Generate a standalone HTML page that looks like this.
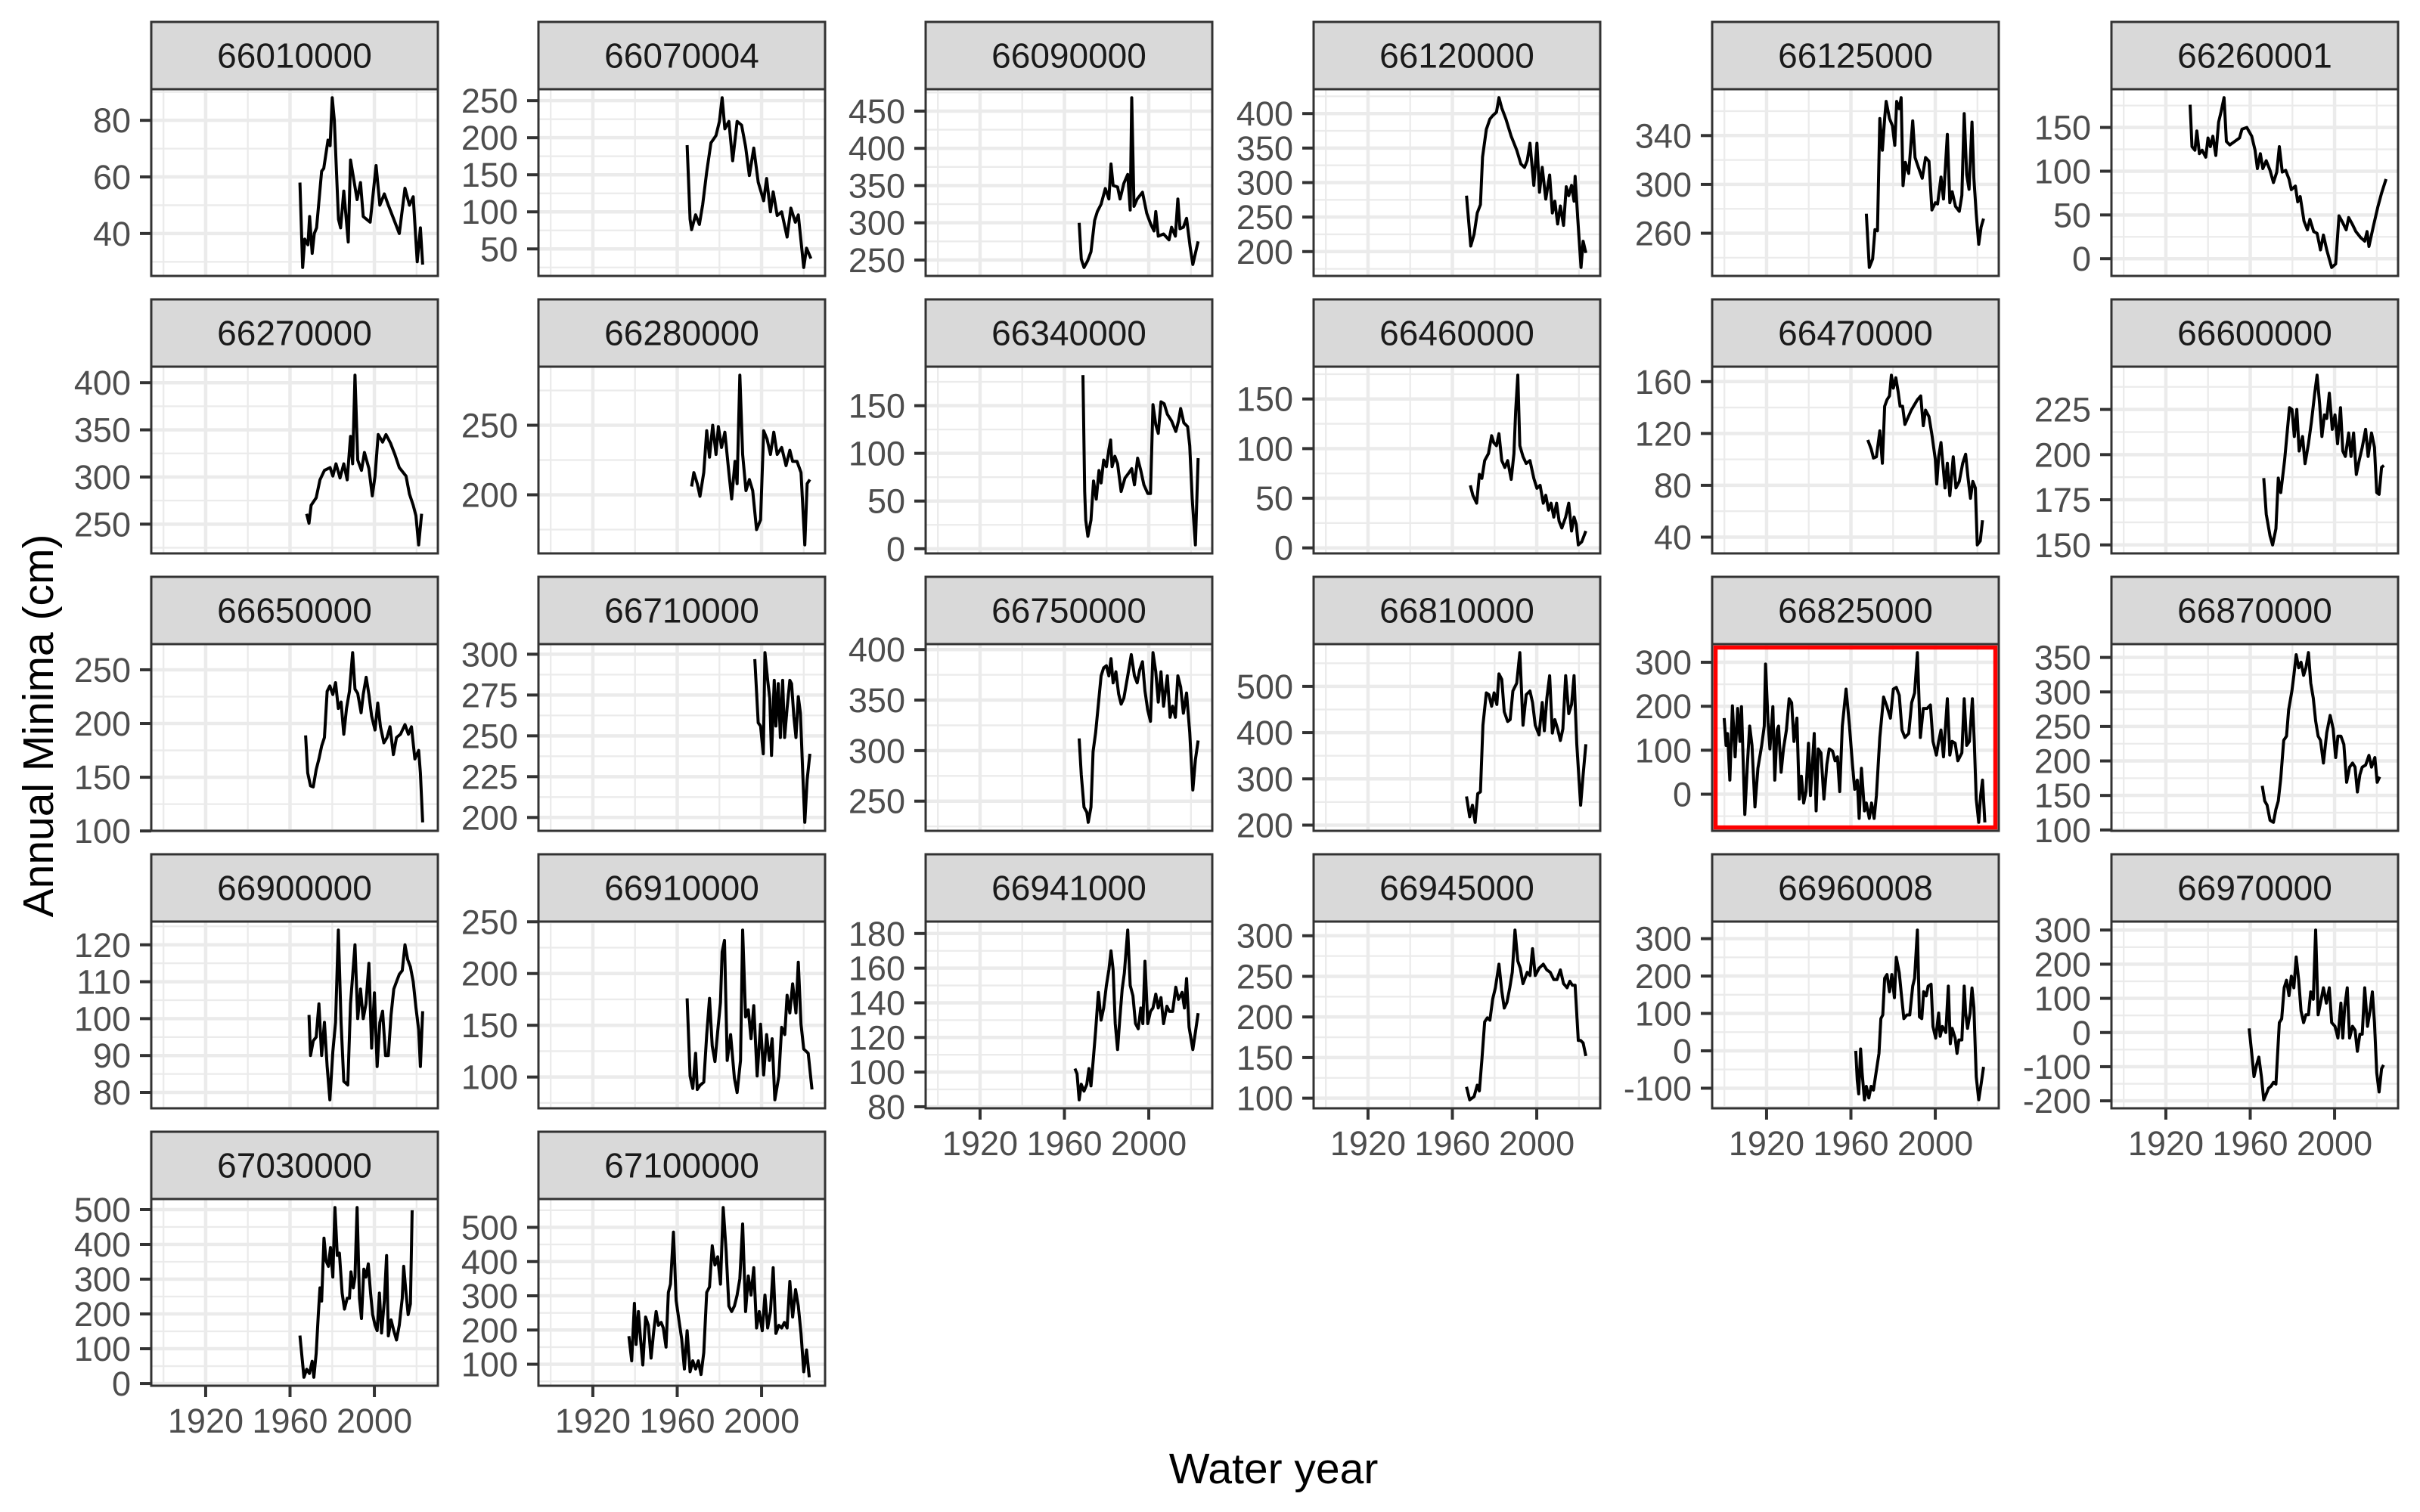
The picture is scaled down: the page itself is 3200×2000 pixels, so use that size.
<!DOCTYPE html>
<html><head><meta charset="utf-8"><title>Annual minima by station</title>
<style>
html,body{margin:0;padding:0;background:#fff;}
svg{display:block;}
</style></head>
<body>
<svg id="chart" width="3200" height="2000" viewBox="0 0 3200 2000" xmlns="http://www.w3.org/2000/svg" font-family="'Liberation Sans', Arial, sans-serif">
<rect x="0" y="0" width="3200" height="2000" fill="#fff"/>
<text x="0" y="0" transform="translate(70,960) rotate(-90)" text-anchor="middle" font-size="57" fill="#000">Annual Minima (cm)</text>
<text x="1684" y="1962" text-anchor="middle" font-size="57" fill="#000">Water year</text>
</svg>
<script>
const stations = ["66010000","66070004","66090000","66120000","66125000","66260001","66270000","66280000","66340000","66460000","66470000","66600000","66650000","66710000","66750000","66810000","66825000","66870000","66900000","66910000","66941000","66945000","66960008","66970000","67030000","67100000"];
const xTickLabels = [1920,1960,2000];
const xMinorTicks = [1900,1940,1980,2020];
const xDomain = [1894.2, 2030.1];

const years_66010000 = [1964.7,1966,1967,1968.5,1969.3,1970.5,1971.5,1972.6,1975,1976,1978,1979,1980,1981,1982,1983,1984,1985.5,1987.6,1988.7,1991.8,1993.4,1994.7,1998,2000.8,2002.6,2004.7,2006.6,2011.8,2014.5,2016.6,2018.4,2020.3,2021.8,2022.9];
const values_66010000 = [58,28,38,36,46,33,40,42,62,63,73,71,88,80,62,45,42,55,37,66,52,58,46,44,64,50,54,50,40,56,50,53,30,42,29];
const years_66070004 = [1964.7,1966.1,1966.8,1968.7,1970.5,1972.1,1974,1976,1978.4,1980,1981.3,1982.6,1984.5,1986.3,1988.4,1990.5,1992.4,1994.2,1996.3,1998.4,2001,2002.4,2004.2,2005.5,2007.4,2009.5,2012.1,2013.9,2016,2017.4,2020,2021.3,2023.4];
const values_66070004 = [190,90,76,96,83,110,154,193,203,222,254,212,222,169,222,217,188,149,186,140,115,145,100,127,95,100,66,105,86,96,25,51,37];
const years_66090000 = [1967,1968,1969.3,1971,1972.6,1974.3,1975.6,1977.4,1979.4,1981.1,1982.1,1983.1,1985.2,1986.4,1988.2,1990,1991.2,1991.9,1993,1994.5,1997,1999,2000.8,2002.5,2003.3,2004.5,2007,2009.6,2010.8,2012.6,2013.8,2014.8,2016.4,2017.9,2019.6,2020.9,2023.4];
const values_66090000 = [300,251,240,249,261,303,315,325,346,332,379,350,348,332,353,365,317,468,322,332,341,313,299,289,315,282,285,277,294,282,332,292,294,306,268,244,275];
const years_66120000 = [1966.7,1968.7,1970.3,1971.8,1973.3,1974.3,1976.1,1977.8,1979.1,1980.9,1982.1,1983.4,1985.4,1987.9,1990.5,1992.5,1994.2,1995.5,1996.8,1998.6,2000.1,2001.3,2002.6,2004.3,2006.1,2007.4,2008.6,2009.9,2011.2,2012.7,2014,2015.2,2016.5,2017.7,2018.2,2019.5,2021,2022,2023.3];
const values_66120000 = [281,208,225,256,268,337,377,392,397,402,423,408,392,367,347,327,322,332,357,296,357,286,322,276,311,256,273,240,266,238,294,281,296,273,309,246,177,215,198];
const years_66125000 = [1967.3,1968.7,1970.3,1971.4,1972.6,1973.7,1974.9,1976,1976.7,1978.3,1979.7,1980.8,1981.7,1982.9,1983.8,1984.7,1985.8,1987.4,1989.3,1990.4,1992,1993.8,1995.4,1997,1998.4,2000,2001.1,2002.7,2003.9,2005.7,2006.9,2008,2009.6,2011.4,2012.6,2013.7,2014.9,2016,2017.4,2018.3,2019.4,2020.6,2021.7,2022.9];
const values_66125000 = [276,232,239,263,262,354,328,354,368,354,348,332,368,362,371,299,318,309,352,322,314,305,322,319,279,285,284,306,288,341,285,294,282,278,291,358,308,296,351,305,276,251,265,272];
const years_66260001 = [1931.5,1932.4,1933.8,1934.7,1935.9,1937.2,1938.9,1940,1941.1,1942.3,1943.7,1945,1946.2,1947.6,1948.7,1950.3,1952.6,1954.9,1956.1,1958.4,1960.7,1962.3,1963.4,1964.8,1966,1967.6,1969.4,1971,1972.6,1973.8,1975.2,1976.8,1978.4,1979.5,1981.4,1982.5,1983.7,1985.5,1987.1,1988.3,1990.1,1991.7,1993.3,1994.7,1996.3,1998.6,2000.5,2002.1,2003.9,2005.5,2006.7,2008.5,2010.1,2012.4,2014.3,2015.4,2016.3,2018.2,2020.5,2022.3,2024.4];
const values_66260001 = [176,128,124,146,120,124,116,138,128,140,118,156,168,184,134,130,134,138,148,150,140,124,103,120,103,112,101,87,99,128,99,101,91,79,83,65,71,43,33,45,31,29,10,27,10,-10,-6,49,41,33,47,39,31,24,20,31,14,35,59,75,91];
const years_66270000 = [1967.9,1969,1970,1972.4,1974.2,1976.3,1979,1980.3,1981.8,1983.7,1985.5,1987.1,1988.7,1989.7,1990.8,1992.1,1993.9,1995.3,1997.4,1999,2000.3,2001.8,2003.9,2005.5,2007.6,2009.7,2011.8,2015,2016.6,2018.4,2019.7,2021,2022.4];
const values_66270000 = [261,251,270,278,297,307,310,301,314,299,314,297,343,314,408,318,307,326,309,280,301,345,337,345,336,324,310,301,282,270,259,228,261];
const years_66280000 = [1966.8,1967.9,1969.5,1970.8,1972.6,1974,1975.3,1976.8,1978.4,1979.5,1981,1982.6,1984.5,1985.8,1987.4,1988.4,1989.7,1991,1992.6,1994.2,1995.8,1997.6,1999.5,2001,2002.6,2004.2,2005.8,2007.4,2009.5,2011.6,2013.4,2014.7,2016.8,2018.7,2020.5,2021.6,2022.9];
const values_66280000 = [206,216,208,199,216,246,227,250,229,249,234,245,216,197,224,208,286,229,203,211,203,175,182,246,240,229,245,229,234,221,232,224,224,216,164,208,211];
const years_66340000 = [1968.8,1969.6,1970.1,1971.1,1972.6,1973.8,1975.1,1976.4,1977.4,1978.6,1979.9,1981.1,1981.9,1982.6,1983.9,1985.2,1986.9,1988.7,1990.7,1991.9,1993.2,1994.7,1996.2,1997.7,1999.5,2000.8,2002,2003.3,2004.5,2005.8,2007.3,2008.8,2010.8,2012.8,2014.1,2015.1,2016.6,2018.4,2019.4,2020.6,2022.1,2023.4];
const values_66340000 = [182,60,30,13,30,71,52,82,69,93,86,104,114,86,97,89,60,74,80,84,67,95,82,67,58,58,151,130,121,154,152,141,134,123,134,147,132,128,108,52,4,95];
const years_66460000 = [1968.5,1969.7,1971.5,1972.8,1974,1975.3,1977.1,1978.6,1979.6,1980.9,1982.1,1983.4,1984.9,1986.2,1987.9,1989.2,1990,1991,1992,1993.5,1995,1996.8,1998.6,2000.1,2001.6,2003.1,2004.3,2005.6,2006.8,2008.1,2009.4,2010.6,2011.9,2013.7,2015.2,2016.5,2017.7,2018.7,2019.7,2021.3,2023.3];
const values_66460000 = [63,53,45,74,70,88,95,113,106,103,115,88,81,88,69,95,138,174,103,92,85,88,70,60,63,45,53,38,45,31,45,27,20,31,45,17,31,24,3,6,17];
const years_66470000 = [1968,1969.6,1970.7,1972.1,1973.7,1974.9,1976,1977.1,1978.3,1979.2,1980.1,1981.3,1982.4,1983.3,1984.5,1985.6,1988.6,1991.5,1993.1,1994.3,1995.4,1997,1998.4,2000,2000.7,2001.6,2002.7,2004.6,2005.7,2006.9,2008.5,2009.8,2011.4,2013,2014.4,2015.5,2016.7,2017.8,2019,2019.9,2021.3,2022.4];
const values_66470000 = [115,108,101,102,122,97,141,146,149,165,155,163,152,141,141,127,138,146,149,126,138,133,119,100,81,102,113,78,97,72,102,78,83,97,104,86,70,83,78,34,37,53];
const years_66600000 = [1966.4,1967.6,1969.4,1970.6,1972.2,1973.3,1974.5,1976.3,1977.5,1978.6,1979.8,1980.9,1982.1,1983.2,1984.8,1986,1987.6,1989,1990.6,1991.7,1992.9,1994,1995.2,1996.3,1997.5,1998.9,2000.2,2001.4,2002.8,2003.9,2005.1,2006.7,2007.8,2009,2010.3,2011.7,2013.1,2014.7,2015.9,2017.5,2018.9,2020,2021.1,2022.3,2023.4];
const values_66600000 = [187,167,155,150,159,187,179,197,212,226,225,210,225,202,210,195,206,218,234,244,228,210,222,220,234,214,222,206,226,202,199,212,199,212,189,197,204,214,199,212,204,179,178,193,194];
const years_66650000 = [1967.4,1968.4,1969.7,1971,1972.4,1973.7,1975,1976.3,1977.6,1978.9,1980.3,1981.6,1982.9,1984.2,1985.5,1986.8,1988.2,1989.7,1990.8,1992.1,1993.7,1994.7,1996.1,1997.4,1998.7,2000.3,2001.6,2002.9,2004.5,2006,2007.4,2009,2010.5,2012.4,2014.5,2016.1,2017.6,2019.2,2021,2021.8,2022.9];
const values_66650000 = [189,154,142,141,157,167,179,187,230,235,227,238,214,220,190,214,230,266,232,228,210,227,243,227,207,194,219,197,182,187,197,171,187,190,199,190,197,167,175,154,108];
const years_66710000 = [1996.8,1998.4,1999.5,2000.8,2001.6,2002.9,2003.9,2004.7,2006,2006.8,2007.9,2008.9,2010,2010.9,2012.1,2013.4,2014.2,2015.3,2016.3,2017.4,2018.4,2019.5,2020.5,2021.6,2022.9];
const values_66710000 = [297,258,256,239,301,284,273,238,284,256,282,249,284,249,267,284,282,262,249,274,264,228,197,223,239];
const years_66750000 = [1967,1968,1969.3,1970.6,1971.3,1972.6,1973.6,1974.8,1976.1,1977.4,1978.6,1979.9,1981.1,1982.1,1983.1,1984.4,1985.7,1986.9,1988.2,1990,1991.7,1993.2,1994.5,1995.7,1997,1998.2,1999.5,2000.8,2002,2003.3,2004.5,2005.8,2007,2008.8,2010.1,2011.3,2012.6,2013.8,2015.1,2016.4,2017.9,2019.4,2020.9,2022.1,2023.4];
const values_66750000 = [312,276,244,239,229,244,299,318,346,374,382,384,374,391,367,378,356,346,352,374,395,374,367,380,388,359,340,329,397,378,348,378,344,374,333,344,333,374,363,337,357,318,261,291,310];
const years_66810000 = [1966.7,1968.2,1969.5,1970.8,1972,1973.3,1974.5,1976.1,1977.3,1978.6,1979.8,1981.1,1982.1,1983.4,1984.6,1986.2,1987.4,1988.7,1990.5,1992,1993.5,1995,1996.8,1998,1999.3,2001.1,2002.6,2003.6,2004.8,2006.1,2007.4,2008.6,2009.9,2011.2,2012.4,2013.7,2015.2,2016.5,2017.7,2019,2020.8,2022,2023.3];
const values_66810000 = [262,218,243,206,268,272,416,486,482,457,486,461,527,515,445,424,428,490,507,573,416,482,490,465,416,395,465,404,474,523,399,428,408,383,408,523,441,461,523,375,243,309,375];
const years_66825000 = [1899.9,1900.8,1901.5,1902.6,1903.8,1905.1,1906.3,1907.4,1908.1,1909.7,1910.9,1912,1913.1,1914.5,1915.9,1917.7,1918.9,1919.5,1920.7,1921.6,1923,1923.9,1925,1925.7,1926.9,1928,1929.4,1930.7,1931.9,1933,1934.4,1935.5,1936.5,1937.6,1938.7,1939.9,1940.8,1942.6,1943.5,1944.5,1945.8,1947.2,1948.6,1949.7,1951.3,1952.5,1953.6,1954.7,1955.9,1957.7,1959.3,1960.7,1961.8,1963,1963.9,1965,1966.4,1967.3,1968.7,1969.8,1971,1972.1,1973.7,1975.5,1977.1,1978.7,1980.1,1981.5,1982.9,1984.2,1985.6,1987.4,1988.8,1990.2,1991.5,1992.9,1994.3,1996.1,1997.7,1998.9,2000.5,2001.6,2002.7,2003.9,2005.7,2006.9,2008,2009.4,2010.7,2012.6,2013.7,2014.9,2016.2,2017.6,2018.5,2019.4,2020.6,2021.5,2022.4,2023.5];
const values_66825000 = [173,111,138,32,201,85,195,120,199,-46,68,155,111,-29,59,111,155,296,164,103,199,32,146,155,50,103,146,217,208,120,173,-11,41,-20,6,116,-3,138,-38,103,94,-11,68,103,98,76,85,6,155,239,155,68,11,32,-55,59,-38,-20,-55,-20,-55,-3,129,221,199,173,239,243,225,146,129,138,208,230,322,129,195,195,203,120,89,120,146,85,217,89,120,116,76,94,217,111,120,217,120,-11,-64,-3,32,-64];
const years_66870000 = [1965.7,1966.9,1968,1969.4,1971,1972.2,1973.3,1974.5,1975.9,1977.2,1978.2,1979.8,1980.7,1981.8,1983,1984.1,1985.3,1986.4,1987.6,1988.7,1989.9,1991,1992.2,1993.3,1994.7,1996.3,1997.9,1999.3,2000.5,2001.6,2003,2004.4,2005.7,2007.1,2008.5,2009.7,2010.8,2012,2013.1,2014.7,2016.3,2017.5,2019.1,2020.2,2021.4];
const values_66870000 = [164,142,136,114,111,130,142,175,230,236,274,302,324,354,335,343,324,335,357,313,291,258,236,230,197,241,266,247,205,236,236,224,169,191,197,191,155,180,191,194,208,191,205,169,177];
const years_66900000 = [1969,1969.7,1971,1972.4,1973.7,1975,1976.3,1977.6,1978.9,1980.3,1981.6,1982.9,1984.2,1985.5,1987.4,1988.7,1990.8,1992.1,1993.4,1994.7,1996,1997.4,1998.7,2000,2001.3,2002.6,2003.9,2005.3,2006.6,2007.9,2009.2,2010.5,2011.8,2013.2,2014.5,2015.8,2017.1,2018.4,2019.7,2021,2021.8,2022.9];
const values_66900000 = [101,90,94,95,104,90,99,87,78,91,99,124,99,83,82,104,120,100,108,100,104,115,92,107,87,99,102,90,90,101,108,110,112,113,120,116,114,110,103,97,87,102];
const years_66910000 = [1964.7,1966.1,1967.4,1968.7,1969.5,1970.8,1972.6,1974,1975.3,1976.6,1977.9,1979.2,1980.5,1981.3,1982.4,1983.7,1985.3,1987.1,1988.4,1990,1991,1992.4,1993.7,1995,1996.3,1997.9,1999.5,2001,2002.4,2003.7,2005,2006.3,2008.2,2009.5,2011,2012.1,2013.4,2014.7,2016.3,2017.4,2018.7,2020,2022.1,2023.9];
const values_66910000 = [176,101,89,123,88,92,95,141,176,130,115,144,172,221,232,116,141,99,85,116,242,158,165,137,169,101,151,102,141,116,137,78,101,148,141,179,162,190,162,211,151,127,123,88];
const years_66941000 = [1965,1966,1967,1968,1969.3,1970.6,1971.6,1972.6,1973.6,1974.8,1976.1,1977.4,1978.6,1979.9,1981.1,1982.1,1983.1,1984.1,1985.2,1986.2,1987.4,1988.4,1990,1991.2,1992.5,1993.7,1995,1996.2,1997.2,1998.2,1999.5,2000.8,2002,2003.3,2004.5,2005.8,2007,2008.6,2009.8,2011.3,2012.8,2014.1,2015.8,2016.9,2017.9,2019.1,2020.9,2022.1,2023.4];
const values_66941000 = [102,99,84,93,89,93,102,92,106,124,146,130,137,150,159,170,159,128,113,130,148,157,182,150,144,128,125,137,128,164,128,135,137,145,137,143,128,138,135,135,149,142,146,137,154,126,113,123,134];
const years_66945000 = [1966.7,1968.2,1970.3,1971.8,1972.8,1974,1975.3,1976.6,1977.8,1979.1,1980.4,1982.1,1983.4,1984.6,1985.9,1987.2,1988.4,1989.7,1991,1992.2,1993.5,1995.5,1996.8,1998,1999.3,2001.1,2003.1,2004.8,2006.4,2008.1,2009.6,2011.2,2012.7,2014.4,2015.7,2016.9,2018.2,2019.7,2020.8,2022,2023.3];
const values_66945000 = [114,98,102,116,109,147,194,199,196,222,236,265,232,211,218,236,255,307,269,260,241,255,251,284,251,260,265,258,255,246,246,258,241,236,244,239,239,171,171,168,152];
const years_66960008 = [1962.3,1963,1963.7,1964.6,1965.3,1966.4,1967.3,1968.5,1969.6,1970.7,1971.9,1973.3,1974.2,1975.1,1976,1977.1,1978.3,1979.4,1980.6,1981.5,1982.9,1984,1985.1,1986.5,1987.9,1989.3,1990.2,1991.5,1992.5,1993.6,1994.5,1995.7,1996.6,1998,1998.9,2000.2,2001.6,2002.3,2003.4,2005,2006.2,2007.1,2008,2009.4,2010.3,2011.2,2012.6,2013.7,2014.4,2015.3,2016.5,2017.4,2018.3,2019.4,2020.6,2021.7,2022.9];
const values_66960008 = [0,-79,-115,5,-59,-131,-95,-126,-95,-105,-59,-7,86,96,194,204,158,204,142,250,209,147,86,96,96,173,194,323,91,86,158,147,173,178,65,34,101,39,65,49,173,19,60,34,-7,29,29,173,101,60,101,168,116,-69,-131,-90,-43];
const years_66970000 = [1959.5,1960.7,1961.8,1963,1964.1,1965.3,1966.4,1967.6,1968.7,1969.9,1971,1972.2,1973.8,1974.9,1976.1,1977.2,1978.4,1979.5,1980.7,1981.8,1983,1984.1,1985.3,1986.4,1987.6,1988.7,1989.9,1991,1992.2,1993.3,1994.7,1996.1,1997.5,1998.6,2000.2,2001.6,2003,2003.9,2004.8,2006,2007.1,2008.5,2009.7,2010.8,2012,2013.1,2014.3,2015.6,2016.8,2017.9,2018.9,2020,2021.1,2022.3,2023.2];
const values_66970000 = [12,-61,-129,-95,-72,-129,-197,-180,-163,-157,-146,-151,29,40,131,153,108,165,131,221,153,63,29,52,52,119,97,300,52,86,131,86,131,29,18,-16,86,-16,74,131,-16,18,7,-55,-5,-5,131,18,63,119,29,-118,-174,-106,-95];
const years_67030000 = [1964.7,1965.8,1966.6,1967.9,1969.2,1970.5,1971.3,1972.4,1973.4,1974.2,1975,1976.1,1977.1,1978.2,1979.2,1980.3,1981.3,1982.4,1983.4,1984.7,1985.8,1987.1,1988.2,1988.9,1990,1990.8,1991.8,1992.9,1993.9,1995,1996,1997.1,1998.2,1999.2,2000.3,2001.3,2002.4,2003.4,2004.7,2005.8,2006.6,2007.9,2009.2,2010.5,2011.8,2013.2,2013.9,2015,2016,2017.1,2017.9];
const values_67030000 = [138,68,18,41,29,64,18,87,198,275,237,418,352,337,391,306,506,368,375,260,214,245,245,321,275,306,506,245,187,329,306,344,260,198,168,152,260,145,237,368,137,183,152,125,168,245,337,260,198,229,498];
const years_67100000 = [1937.1,1938.4,1939.7,1940.5,1941.6,1942.6,1943.7,1945,1946.3,1947.6,1948.9,1950,1951.1,1952.4,1953.4,1954.7,1955.8,1956.8,1958.2,1959.5,1960.8,1962.1,1963.4,1964.7,1966.1,1967.4,1968.7,1970,1971.3,1972.6,1974,1975.3,1976.6,1977.9,1979.2,1980.5,1981.8,1983.2,1984.5,1985.8,1987.1,1988.4,1989.7,1991,1992.4,1993.7,1995,1996.3,1997.6,1998.9,2000.3,2001.6,2002.9,2004.2,2005.5,2006.8,2008.2,2009.5,2010.8,2012.1,2013.4,2014.7,2016.1,2017.4,2018.7,2020,2021.3,2022.6];
const values_67100000 = [182,110,278,158,254,174,98,238,214,118,198,254,214,222,206,150,310,334,486,286,230,174,86,198,78,110,86,110,70,134,310,326,446,390,414,334,558,430,270,254,270,302,350,510,254,358,302,382,206,254,198,302,206,254,382,190,214,206,222,206,342,238,318,270,190,78,142,62];

const yTicks_66010000=[40,60,80], yTicks_66070004=[50,100,150,200,250], yTicks_66090000=[250,300,350,400,450], yTicks_66120000=[200,250,300,350,400], yTicks_66125000=[260,300,340], yTicks_66260001=[0,50,100,150], yTicks_66270000=[250,300,350,400], yTicks_66280000=[200,250], yTicks_66340000=[0,50,100,150], yTicks_66460000=[0,50,100,150], yTicks_66470000=[40,80,120,160], yTicks_66600000=[150,175,200,225], yTicks_66650000=[100,150,200,250], yTicks_66710000=[200,225,250,275,300], yTicks_66750000=[250,300,350,400], yTicks_66810000=[200,300,400,500], yTicks_66825000=[0,100,200,300], yTicks_66870000=[100,150,200,250,300,350], yTicks_66900000=[80,90,100,110,120], yTicks_66910000=[100,150,200,250], yTicks_66941000=[80,100,120,140,160,180], yTicks_66945000=[100,150,200,250,300], yTicks_66960008=[-100,0,100,200,300], yTicks_66970000=[-200,-100,0,100,200,300], yTicks_67030000=[0,100,200,300,400,500], yTicks_67100000=[100,200,300,400,500];

const highlightedStation = "66825000";

const dataMap = {};
stations.forEach(s => { dataMap[s] = {years: eval('years_'+s), values: eval('values_'+s), ticks: eval('yTicks_'+s)}; });

const NS = "http://www.w3.org/2000/svg";
const svg = document.getElementById('chart');
const colLeft = [200,712,1224,1737,2264,2792];
const rowTop = [29,396,763,1130,1497];
const PW = 379, SH = 89, PH = 247;
function mk(tag, attrs, parent){ const e=document.createElementNS(NS,tag); for(const k in attrs) e.setAttribute(k,attrs[k]); (parent||svg).appendChild(e); return e; }

stations.forEach((s, i) => {
  const r = Math.floor(i/6), c = i%6;
  const L = colLeft[c], T = rowTop[r] + SH, B = T + PH, R = L + PW;
  const d = dataMap[s];
  const g = mk('g', {});
  
  
  const xs = v => L + (v - xDomain[0]) / (xDomain[1] - xDomain[0]) * PW;
  const mn = Math.min(...d.values), mx = Math.max(...d.values), rg = mx - mn;
  const y0 = mn - 0.05*rg, y1 = mx + 0.05*rg;
  const ys = v => B - (v - y0) / (y1 - y0) * PH;
  mk('rect', {x:L, y:T, width:PW, height:PH, fill:'#fff'}, g);
  // minor grid
  const step = d.ticks[1] - d.ticks[0];
  const minors = [];
  for (let k = -1; k < d.ticks.length; k++) minors.push(d.ticks[0] + step*(k+0.5));
  minors.forEach(v => { if (v>y0 && v<y1) mk('line',{x1:L,x2:R,y1:ys(v),y2:ys(v),stroke:'#ebebeb','stroke-width':2.3},g); });
  xMinorTicks.forEach(v => mk('line',{x1:xs(v),x2:xs(v),y1:T,y2:B,stroke:'#ebebeb','stroke-width':2.3},g));
  d.ticks.forEach(v => mk('line',{x1:L,x2:R,y1:ys(v),y2:ys(v),stroke:'#ebebeb','stroke-width':4.5},g));
  xTickLabels.forEach(v => mk('line',{x1:xs(v),x2:xs(v),y1:T,y2:B,stroke:'#ebebeb','stroke-width':4.5},g));
  // series line
  const pts = d.years.map((yr, k) => xs(yr).toFixed(1) + ',' + ys(d.values[k]).toFixed(1)).join(' ');
  const line = mk('polyline', {points:pts, fill:'none', stroke:'#000', 'stroke-width':4, 'stroke-linejoin':'round'}, g);
  
  
  // border
  mk('rect', {x:L, y:T, width:PW, height:PH, fill:'none', stroke:'#333', 'stroke-width':3}, g);
  if (s === highlightedStation) {
    const hl = mk('rect', {x:L+4.5, y:T+4.5, width:PW-9, height:PH-9, fill:'none', stroke:'#ff0000', 'stroke-width':5.5}, g);
    
    
  }
  // strip
  const st = mk('rect', {x:L, y:rowTop[r], width:PW, height:SH, fill:'#d9d9d9', stroke:'#333', 'stroke-width':3}, g);
  
  
  const stt = mk('text', {x:L+PW/2, y:rowTop[r]+SH/2+16, 'text-anchor':'middle', 'font-size':46, fill:'#1a1a1a'}, g);
  stt.textContent = s;
  
  
  // y ticks
  d.ticks.forEach(v => {
    const y = ys(v);
    mk('line', {x1:L-15, x2:L, y1:y, y2:y, stroke:'#333', 'stroke-width':4}, g);
    const t = mk('text', {x:L-27, y:y+16, 'text-anchor':'end', 'font-size':45, fill:'#4d4d4d'}, g);
    t.textContent = v;
    
    
  });
  // x axis on bottom panel of each column
  const isBottom = (c < 2 && r === 4) || (c >= 2 && r === 3);
  if (isBottom) {
    xTickLabels.forEach(v => {
      const x = xs(v);
      mk('line', {x1:x, x2:x, y1:B, y2:B+15, stroke:'#333', 'stroke-width':4}, g);
      const t = mk('text', {x:x, y:B+62, 'text-anchor':'middle', 'font-size':45, fill:'#4d4d4d'}, g);
      t.textContent = v;
      
      
    });
  }
});
</script>
</body></html>
